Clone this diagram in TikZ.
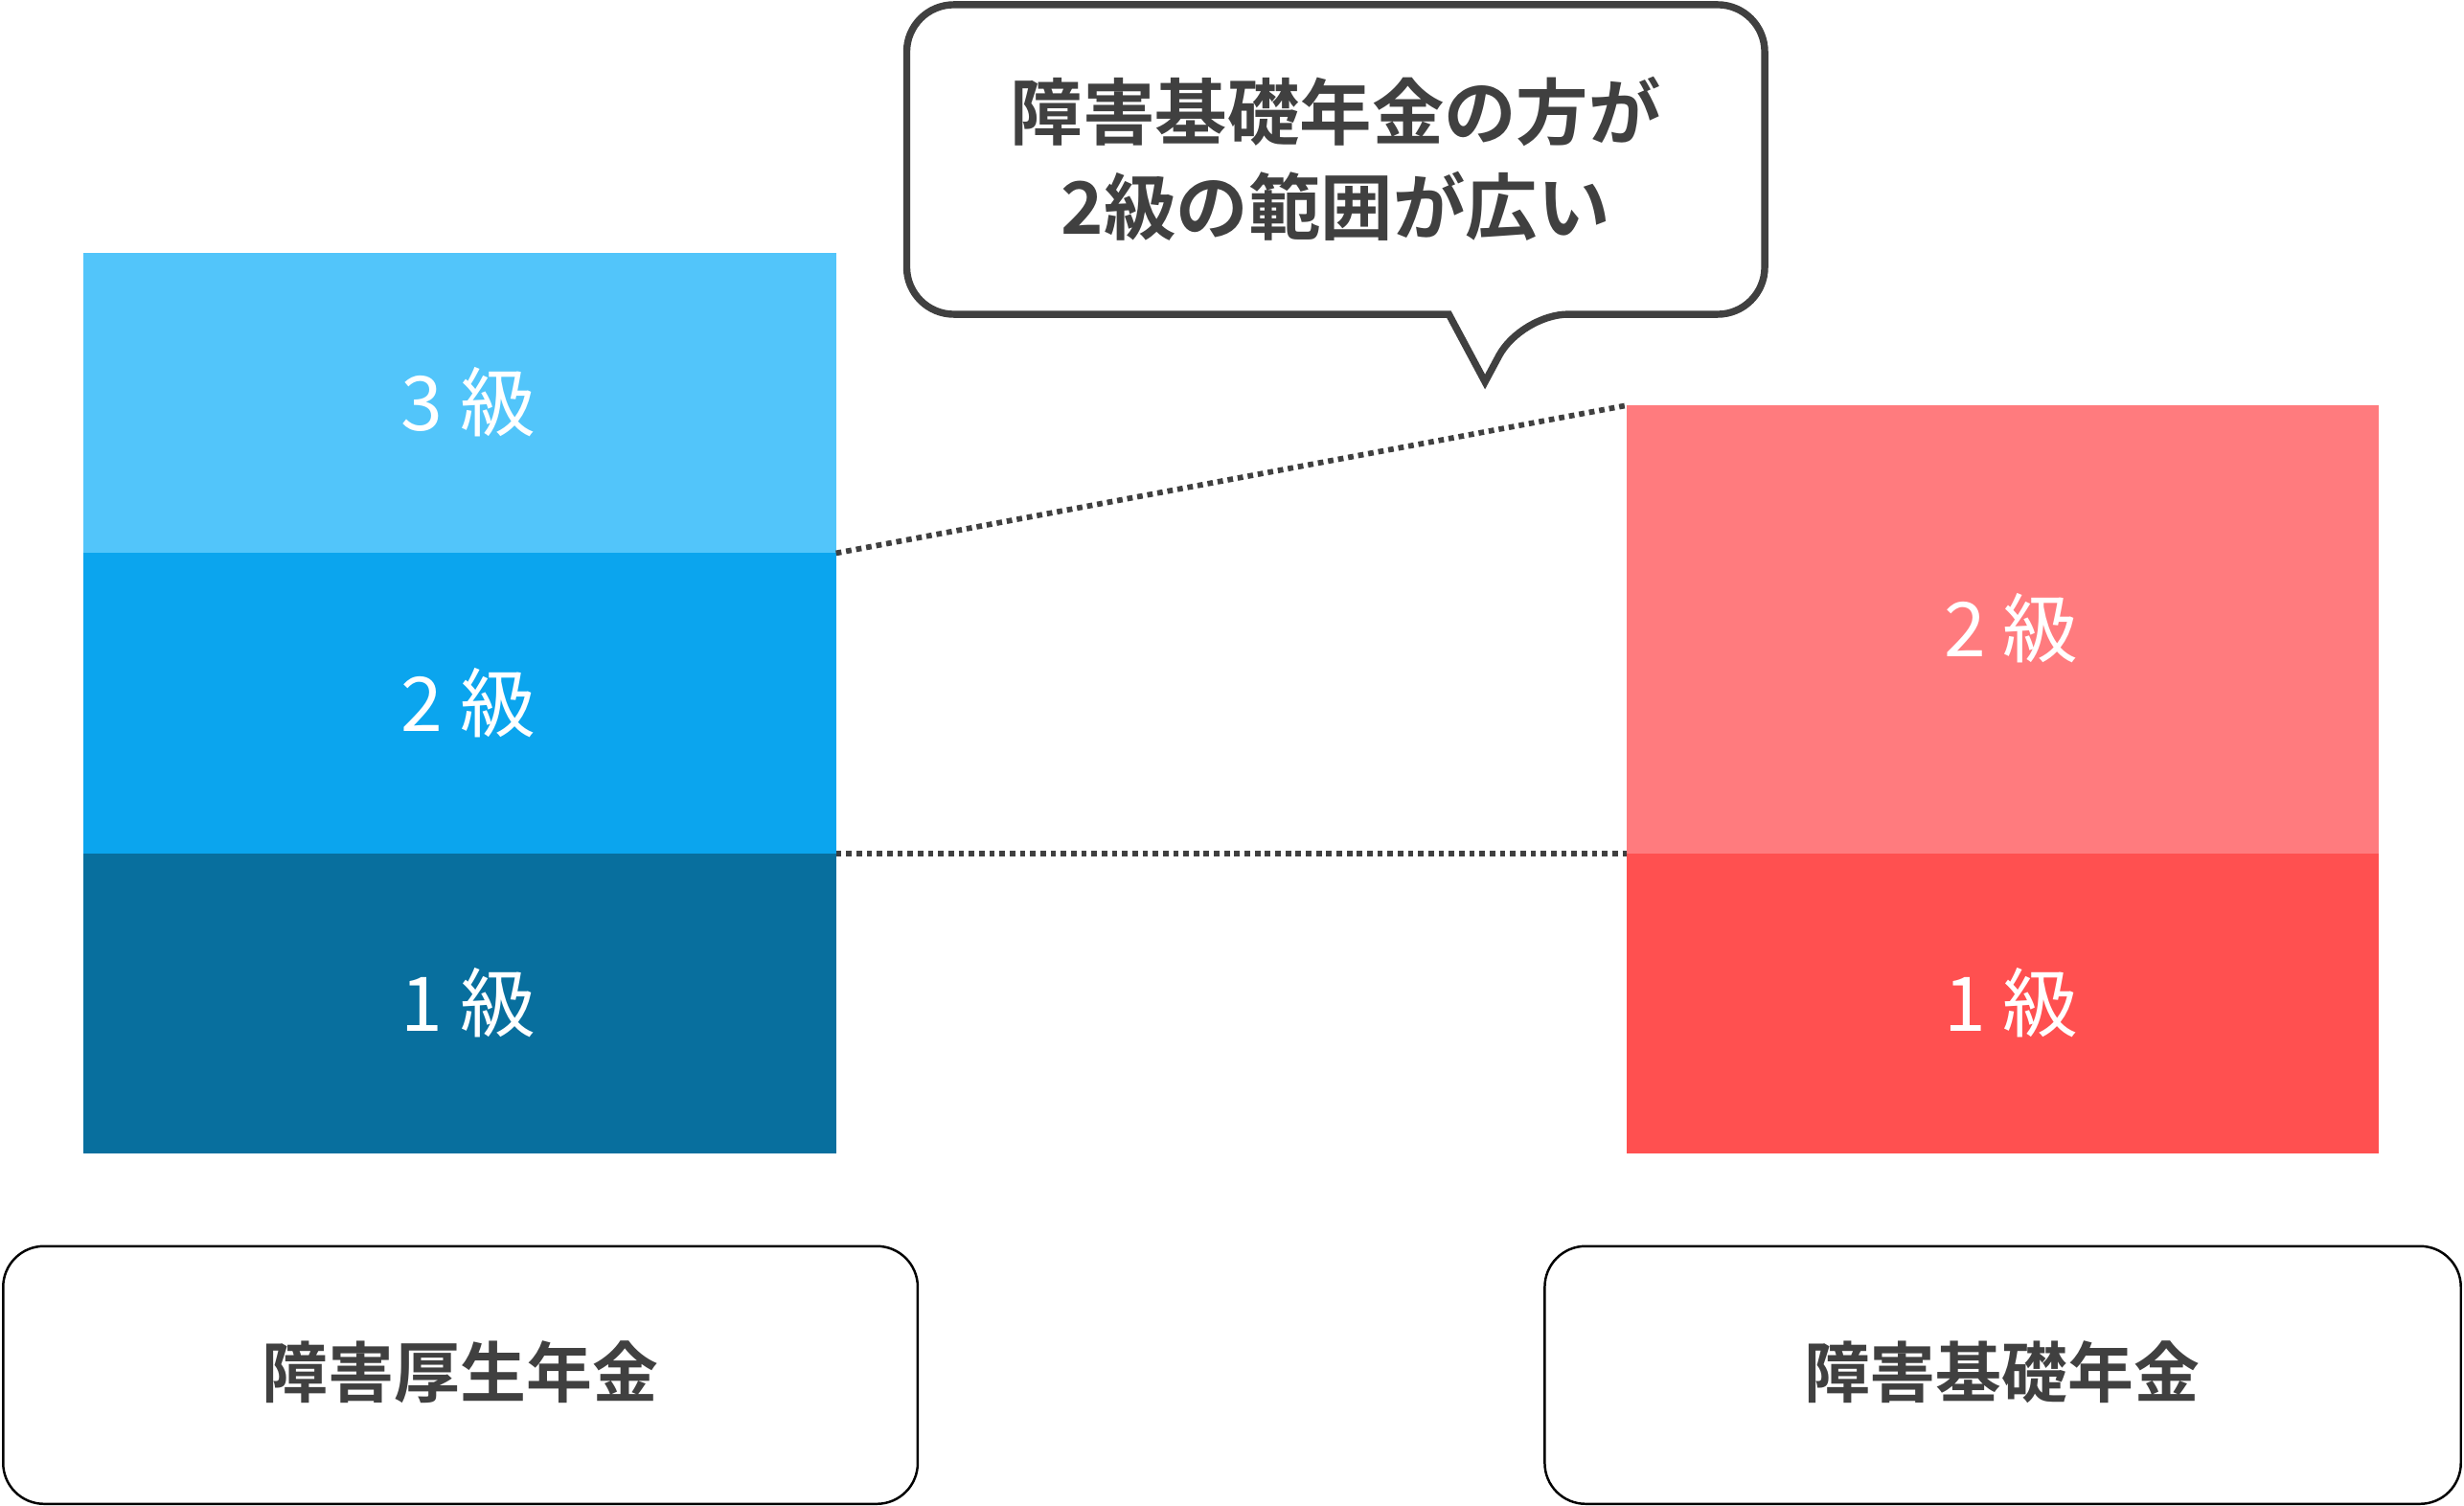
\documentclass[tikz,border=0pt]{standalone}
\usepackage{fontspec}
\newfontfamily\cjk{Noto Sans CJK JP}
\newfontfamily\cjkb{Noto Sans CJK JP Bold}
\definecolor{lb}{HTML}{52C5FA}
\definecolor{mb}{HTML}{0BA5EE}
\definecolor{db}{HTML}{086F9E}
\definecolor{pk}{HTML}{FF7B7E}
\definecolor{rd}{HTML}{FF5050}
\definecolor{dg}{HTML}{404040}
\begin{document}
\begin{tikzpicture}[x=1pt,y=-1pt,
  lvl/.style={font=\cjk\fontsize{48}{56}\selectfont, text=white},
  base/.style={draw=black, line width=1.5pt, rounded corners=26pt, fill=white},
  blab/.style={font=\cjkb\fontsize{42}{50}\selectfont, text=dg},
  dot/.style={dg, line width=3.5pt, dash pattern=on 3.5pt off 3pt}]
\useasboundingbox (0,0) rectangle (1568,958);
\fill[lb] (53,161) rectangle (532,352);
\fill[mb] (53,352) rectangle (532,543);
\fill[db] (53,543) rectangle (532,734);
\fill[pk] (1035,258) rectangle (1514,543);
\fill[rd] (1035,543) rectangle (1514,734);
\node[lvl] (b3) at (298,256) {3 級};
\node[lvl] (b2) at (298,447) {2 級};
\node[lvl] (b1) at (298,638) {1 級};
\node[lvl] (r2) at (1280,400) {2 級};
\node[lvl] (r1) at (1280,638) {1 級};
\coordinate (l3) at (532,352);
\coordinate (rt) at (1035,258);
\coordinate (l2) at (532,543);
\coordinate (r12) at (1035,543);
\draw[dot] (l3) -- (rt);
\draw[dot] (l2) -- (r12);
\draw[base] (2,793) rectangle (584,957);
\node[blab] (kk) at (293,873) {障害厚生年金};
\draw[base] (983,793) rectangle (1566,957);
\node[blab] (kb) at (1274,873) {障害基礎年金};
\draw[dg, line width=4.5pt, fill=white, rounded corners=30pt]
  (577,3) -- (1123,3) -- (1123,200) -- (968,200) [sharp corners] -- (945,243) -- (922,200) [rounded corners=30pt] -- (577,200) -- cycle;
\node[font=\cjkb\fontsize{46}{60}\selectfont, text=dg, align=center] (cl) at (850,101) {障害基礎年金の方が\\2級の範囲が広い};
\end{tikzpicture}
\end{document}
